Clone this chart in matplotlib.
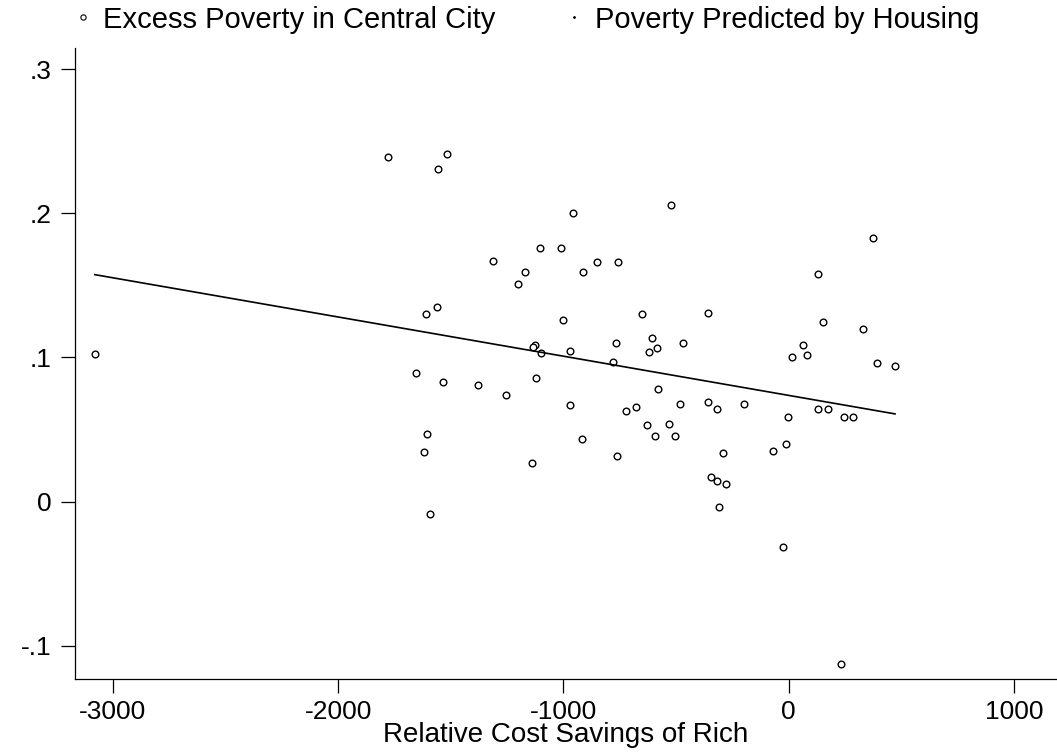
import numpy as np
import matplotlib
matplotlib.use("Agg")
from matplotlib import pyplot as plt
from matplotlib.lines import Line2D

plt.rcParams['font.family'] = ['Liberation Sans', 'DejaVu Sans']
plt.rcParams['axes.unicode_minus'] = False

# Relative cost savings of rich (x) and excess central city poverty (y)
cost_savings = [-3080, -1777, -1518, -1555, -524, -959, -1104, -1011, -1311, -850,
                -756, -1170, -914, -1203, -1560, -1611, -1003, -650, -357, -608,
                376, 132, 151, 329, 65, 14, 80, 391, 472, -198,
                -4, 129, 176, 247, 287, -1126, -1136, -1101, -971, -766,
                -586, -619, -470, -781, -1656, -1533, -1378, -1122, -1256, -971,
                -581, -484, -357, -317, -723, -679, -630, -531, -592, -503,
                -1607, -1618, -916, -762, -1141, -345, -319, -308, -1592, -290,
                -68, -13, -279, -26, 232]
excess_poverty = [0.1025, 0.239, 0.241, 0.231, 0.206, 0.200, 0.176, 0.176, 0.167, 0.166,
                  0.166, 0.159, 0.159, 0.151, 0.135, 0.130, 0.126, 0.130, 0.131, 0.1134,
                  0.183, 0.158, 0.1245, 0.120, 0.109, 0.1006, 0.102, 0.096, 0.094, 0.068,
                  0.059, 0.064, 0.0645, 0.059, 0.059, 0.1087, 0.107, 0.1034, 0.1048, 0.110,
                  0.1065, 0.1037, 0.110, 0.0967, 0.089, 0.0833, 0.081, 0.0856, 0.074, 0.067,
                  0.078, 0.068, 0.0694, 0.064, 0.063, 0.0655, 0.053, 0.054, 0.0456, 0.0456,
                  0.047, 0.0342, 0.0433, 0.0319, 0.027, 0.0173, 0.0143, -0.004, -0.0088, 0.0335,
                  0.035, 0.0398, 0.0122, -0.0313, -0.1128]

# fitted line: predicted poverty = a + b * savings
fit_intercept = 0.0737
fit_slope = -2.72e-5

x_ticks = [-3000, -2000, -1000, 0, 1000]
y_ticks = [-0.1, 0, 0.1, 0.2, 0.3]
y_tick_labels = ['-.1', '0', '.1', '.2', '.3']

x = np.array(cost_savings)
y = np.array(excess_poverty)
xs = np.sort(x)
pred = fit_intercept + fit_slope * xs

fig = plt.figure(figsize=(10.57, 7.56), dpi=100)
ax = fig.add_axes([0.071, 0.102, 0.929, 0.835])

ax.plot(x, y, 'o', ms=4.8, mfc='white', mec='black', mew=1.0, ls='none')
ax.plot(xs, pred, color='black', lw=1.2)

ax.set_xlim(-3168, 1191)
ax.set_ylim(-0.123, 0.315)
ax.set_xticks(x_ticks)
ax.set_yticks(y_ticks)
ax.set_yticklabels(y_tick_labels)

for s in ['top', 'right']:
    ax.spines[s].set_visible(False)
for s in ['left', 'bottom']:
    ax.spines[s].set_linewidth(0.9)
ax.tick_params(axis='both', direction='out', length=10, width=0.9, labelsize=19, pad=5)
ax.tick_params(axis='y', pad=7)

ax.set_xlabel('Relative Cost Savings of Rich', fontsize=20, labelpad=-1)

h1 = Line2D([], [], marker='o', ms=3.8, mfc='white', mec='black', mew=0.8, ls='none')
h2 = Line2D([], [], marker='.', ms=2.0, color='black', ls='none')
fig.legend([h1, h2], ['Excess Poverty in Central City', 'Poverty Predicted by Housing'],
           loc='center left', bbox_to_anchor=(0.070, 0.974), ncol=2, frameon=False,
           fontsize=21, handlelength=0.6, handletextpad=0.4, columnspacing=2.4,
           borderpad=0, borderaxespad=0)

fig.savefig('out.png', dpi=100)
